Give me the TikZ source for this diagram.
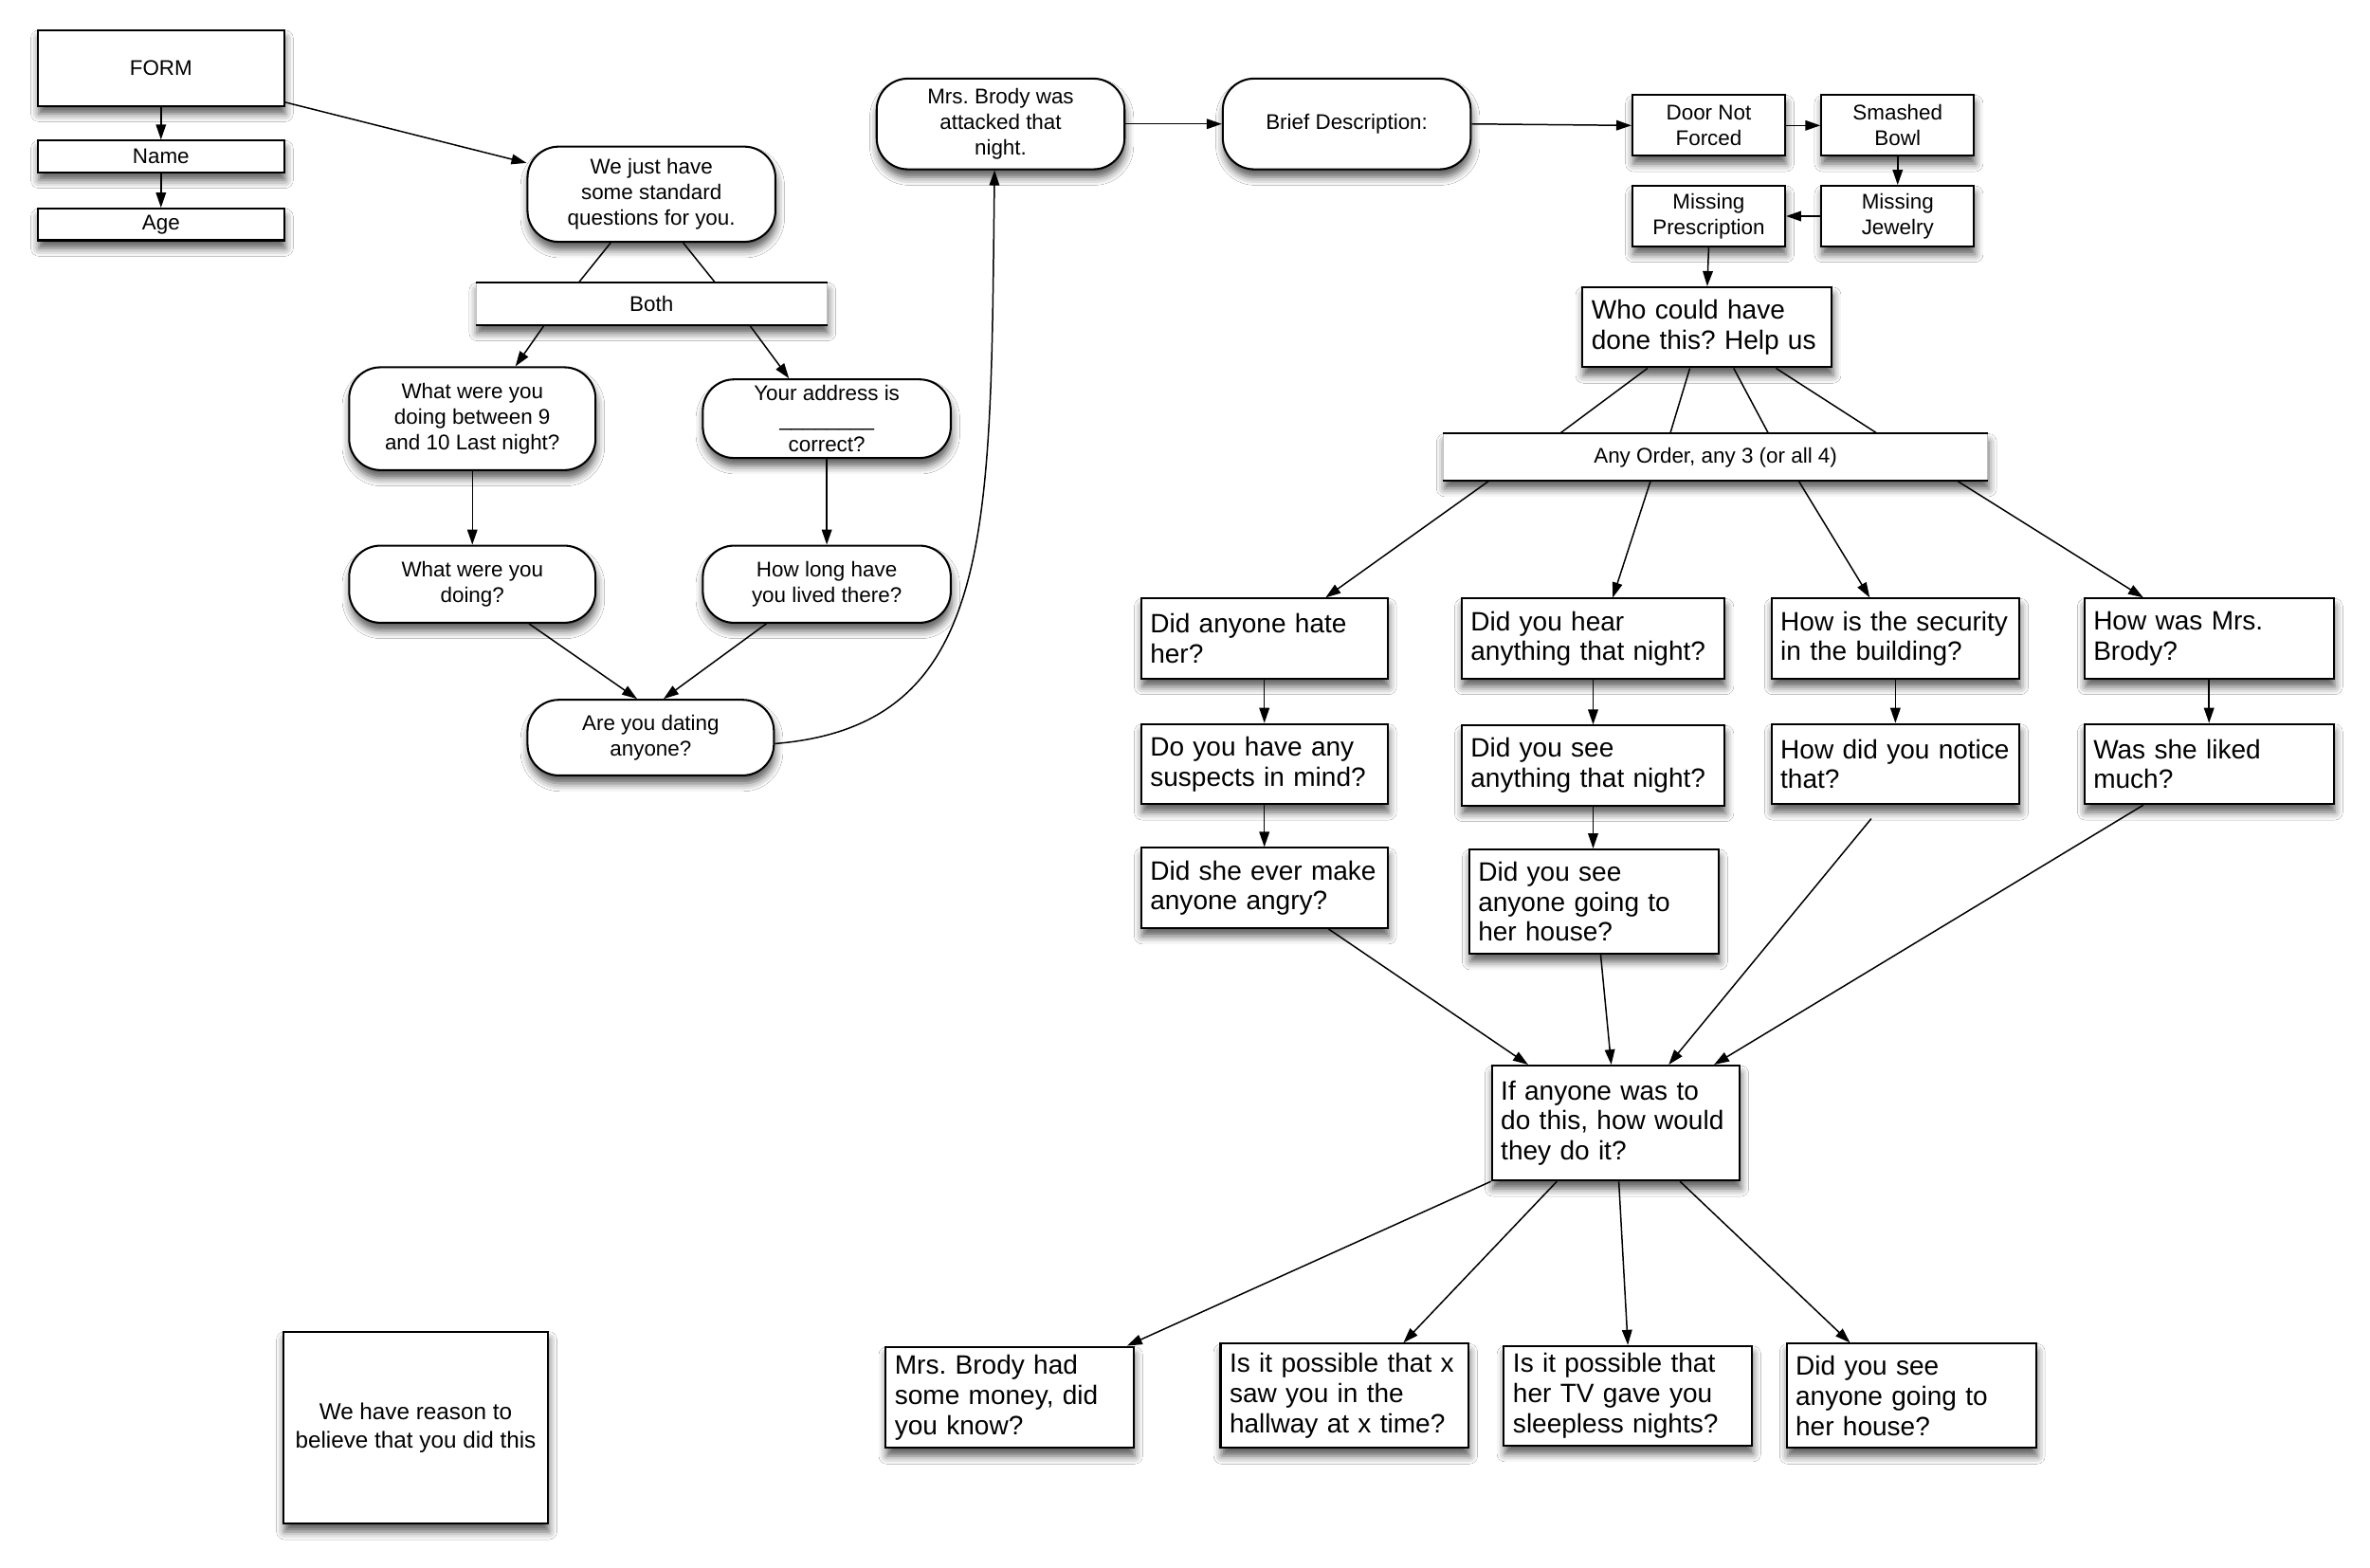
\documentclass[tikz,border=0pt]{standalone}
\usepackage{fontspec}
\setmainfont{Liberation Sans}
\usetikzlibrary{arrows.meta,calc,shadows.blur}
\begin{document}
\frenchspacing
\begin{tikzpicture}[x=0.03cm,y=-0.03cm,
  sm/.style={font=\fontsize{12}{14.5}\selectfont},
  bg/.style={font=\fontsize{15}{17}\selectfont},
  shad/.style={blur shadow={shadow xshift=0.6pt,shadow yshift=-4.5pt,shadow blur radius=4.5pt,shadow opacity=65}},
  rbox/.style={draw,line width=1.1pt,fill=white,rounded corners=0.62cm,shad,sm,align=center,inner sep=0pt},
  sbox/.style={draw,line width=1.1pt,fill=white,shad,sm,align=center,inner sep=0pt},
  qbox/.style={draw,line width=1.1pt,fill=white,shad,bg,align=left,inner xsep=0.18cm,inner ysep=0pt},
  barbox/.style={draw=gray!50,line width=0.4pt,fill=white,shad,sm,inner sep=0pt},
  barline/.style={line width=1.1pt},
  arr/.style={-{Triangle[length=0.3cm,width=0.2cm]},line width=0.8pt},
  ln/.style={line width=0.8pt},
]
\fill[white] (0,0) rectangle (1568,1036.8);
\useasboundingbox (0,0) rectangle (1568,1036.8);

% left column
\node[sbox,minimum width=4.89cm,minimum height=1.5cm] (form) at (106.5,45) {FORM};
\node[sbox,minimum width=4.89cm,minimum height=0.63cm] (name) at (106.5,103.5) {Name};
\node[sbox,minimum width=4.89cm,minimum height=0.63cm] (age) at (106.5,148.5) {Age};

\node[rbox,minimum width=4.92cm,minimum height=1.89cm] (wejust) at (431,128.5) {We just have\\some standard\\questions for you.};
\node[barbox,minimum width=6.96cm,minimum height=0.84cm] (both) at (431,201) {Both};
\draw[barline] (both.north west) -- (both.north east);
\draw[barline] (both.south west) -- (both.south east);

\node[rbox,minimum width=4.89cm,minimum height=2.04cm] (between) at (312.5,277) {What were you\\doing between 9\\and 10 Last night?};
\node[rbox,minimum width=4.92cm,minimum height=1.56cm] (address) at (547,277) {Your address is\\\_\_\_\_\_\_\_\_\\correct?};
\node[rbox,minimum width=4.89cm,minimum height=1.53cm] (doing) at (312.5,386.5) {What were you\\doing?};
\node[rbox,minimum width=4.92cm,minimum height=1.53cm] (howlong) at (547,386.5) {How long have\\you lived there?};
\node[rbox,minimum width=4.89cm,minimum height=1.5cm] (dating) at (430.5,488) {Are you dating\\anyone?};

% top row
\node[rbox,minimum width=4.92cm,minimum height=1.8cm] (brody) at (662,82) {Mrs. Brody was\\attacked that\\night.};
\node[rbox,minimum width=4.92cm,minimum height=1.8cm] (brief) at (891,82) {Brief Description:};
\node[sbox,minimum width=3.03cm,minimum height=1.2cm] (door) at (1130.5,83) {Door Not\\Forced};
\node[sbox,minimum width=3.03cm,minimum height=1.2cm] (bowl) at (1255.5,83) {Smashed\\Bowl};
\node[sbox,minimum width=3.03cm,minimum height=1.2cm] (jewelry) at (1255.5,143) {Missing\\Jewelry};
\node[sbox,minimum width=3.03cm,minimum height=1.2cm] (prescr) at (1130.5,143) {Missing\\Prescription};

\node[qbox,text width=4.59cm,minimum height=1.59cm] (who) at (1129.5,216.5) {Who could have\\done this? Help us};
\node[barbox,minimum width=10.8cm,minimum height=0.93cm] (anyorder) at (1135,302.5) {Any Order, any 3 (or all 4)};
\draw[barline] (anyorder.north west) -- (anyorder.north east);
\draw[barline] (anyorder.south west) -- (anyorder.south east);

% question grid
\node[qbox,text width=4.53cm,minimum height=1.59cm] (hate) at (836.5,422.5) {Did anyone hate\\her?};
\node[qbox,text width=4.86cm,minimum height=1.59cm] (hear) at (1054,422.5) {Did you hear\\anything that night?};
\node[qbox,text width=4.56cm,minimum height=1.59cm] (security) at (1254,422.5) {How is the security\\in the building?};
\node[qbox,text width=4.59cm,minimum height=1.59cm] (howwas) at (1461.5,422.5) {How was Mrs.\\Brody?};

\node[qbox,text width=4.53cm,minimum height=1.59cm] (suspects) at (836.5,505.5) {Do you have any\\suspects in mind?};
\node[qbox,text width=4.86cm,minimum height=1.59cm] (seeany) at (1054,506.5) {Did you see\\anything that night?};
\node[qbox,text width=4.56cm,minimum height=1.59cm] (notice) at (1254,505.5) {How did you notice\\that?};
\node[qbox,text width=4.59cm,minimum height=1.59cm] (liked) at (1461.5,505.5) {Was she liked\\much?};

\node[qbox,text width=4.53cm,minimum height=1.59cm] (angry) at (836.5,587.5) {Did she ever make\\anyone angry?};
\node[qbox,text width=4.59cm,minimum height=2.07cm] (goinghouse) at (1054.5,596.5) {Did you see\\anyone going to\\her house?};

\node[qbox,text width=4.56cm,minimum height=2.28cm] (ifany) at (1069,743) {If anyone was to\\do this, how would\\they do it?};

\node[qbox,text width=4.56cm,minimum height=2.01cm] (money) at (668,924.5) {Mrs. Brody had\\some money, did\\you know?};
\node[qbox,text width=4.56cm,minimum height=2.07cm] (hallway) at (889.5,923.5) {Is it possible that x\\saw you in the\\hallway at x time?};
\node[qbox,text width=4.56cm,minimum height=1.98cm] (tv) at (1077,923.5) {Is it possible that\\her TV gave you\\sleepless nights?};
\node[qbox,text width=4.59cm,minimum height=2.07cm] (house2) at (1264.5,923.5) {Did you see\\anyone going to\\her house?};

\node[sbox,font=\fontsize{13}{16}\selectfont,minimum width=5.25cm,minimum height=3.81cm] (reason) at (275,944.5) {We have reason to\\believe that you did this};

% connectors: left part
\draw[arr] (form.south) -- (name.north);
\draw[arr] (name.south) -- (age.north);
\draw[arr] ($(form.south east)+(0,-3)$) -- (wejust);
\draw[ln] ($(wejust.south)+(-27,0)$) -- ($(both.north)+(-48,0)$);
\draw[ln] ($(wejust.south)+(21,0)$) -- ($(both.north)+(42,0)$);
\draw[arr] ($(both.south)+(-71,0)$) -- ($(between.north)+(28.5,0)$);
\draw[arr] ($(both.south)+(65,0)$) -- ($(address.north)+(-25,0)$);
\draw[arr] (between.south) -- (doing.north);
\draw[arr] (address.south) -- (howlong.north);
\draw[arr] ($(doing.south)+(37.5,0)$) -- ($(dating.north)+(-9,0)$);
\draw[arr] ($(howlong.south)+(-40,0)$) -- ($(dating.north)+(8.5,0)$);
\draw[arr] ($(dating.east)+(0,4)$) .. controls +(147,-12) and +(-3,237) .. ($(brody.south)+(-4,0)$);

% connectors: top row
\draw[arr] (brody.east) -- (brief.west);
\draw[arr] (brief.east) -- (door.west);
\draw[arr] (door.east) -- (bowl.west);
\draw[arr] (bowl.south) -- (jewelry.north);
\draw[arr] (jewelry.west) -- (prescr.east);
\draw[arr] (prescr.south) -- (who.north);

\draw[ln] ($(who.south)+(-39.5,0)$) -- ($(anyorder.north)+(-103,0)$);
\draw[ln] ($(who.south)+(-11.5,0)$) -- ($(anyorder.north)+(-30,0)$);
\draw[ln] ($(who.south)+(17.5,0)$) -- ($(anyorder.north)+(35,0)$);
\draw[ln] ($(who.south)+(45.5,0)$) -- ($(anyorder.north)+(107,0)$);

\draw[arr] ($(anyorder.south)+(-150,0)$) -- ($(hate.north)+(40.5,0)$);
\draw[arr] ($(anyorder.south)+(-43,0)$) -- ($(hear.north)+(13,0)$);
\draw[arr] ($(anyorder.south)+(55,0)$) -- ($(security.north)+(-17,0)$);
\draw[arr] ($(anyorder.south)+(160,0)$) -- ($(howwas.north)+(-43.5,0)$);

\draw[arr] (hate.south) -- (suspects.north);
\draw[arr] (suspects.south) -- (angry.north);
\draw[arr] (hear.south) -- (seeany.north);
\draw[arr] (seeany.south) -- (seeany.south |- goinghouse.north);
\draw[arr] (security.south) -- (notice.north);
\draw[arr] (howwas.south) -- (liked.north);

\coordinate (nstart) at ($(notice.south)+(-16,9)$);
\draw[arr] ($(angry.south)+(42.5,0)$) -- ($(ifany.north)+(-58,0)$);
\draw[arr] ($(goinghouse.south)+(4.5,0)$) -- ($(ifany.north)+(-3,0)$);
\draw[arr] (nstart) -- ($(ifany.north)+(35,0)$);
\draw[arr] ($(liked.south)+(-43.5,0)$) -- ($(ifany.north)+(65,0)$);

\draw[arr] (ifany.south west) -- ($(money.north east)+(-5,0)$);
\draw[arr] ($(ifany.south)+(-39,0)$) -- ($(hallway.north)+(39,0)$);
\draw[arr] ($(ifany.south)+(2,0)$) -- (tv.north);
\draw[arr] ($(ifany.south)+(42.5,0)$) -- ($(house2.north)+(-40.5,0)$);
\end{tikzpicture}
\end{document}
